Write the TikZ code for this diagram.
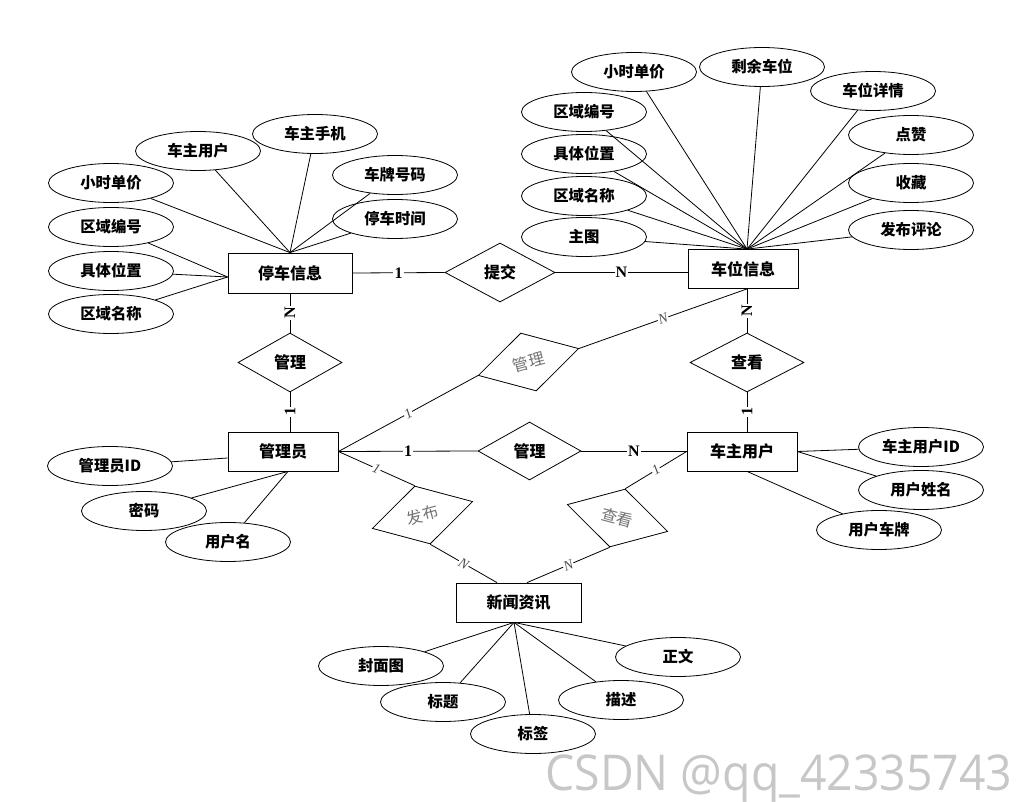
\documentclass[tikz,border=0pt]{standalone}
\usepackage{fontspec}
\setmainfont{Noto Sans CJK SC}
\newfontfamily\labfont{Liberation Serif}
\newfontfamily\wmfont{Open Sans}
\usetikzlibrary{shapes.geometric,calc}
\begin{document}
\begin{tikzpicture}[x=0.75pt,y=-0.75pt,line width=0.6pt,
  ent/.style={draw,rectangle,inner sep=0pt,minimum width=82.5pt,minimum height=29.25pt,
    font=\bfseries\fontsize{12}{14}\selectfont},
  attr/.style={draw,ellipse,inner sep=0pt,minimum width=93.75pt,minimum height=29.25pt,
    font=\bfseries\fontsize{11.5}{14}\selectfont},
  rel/.style={draw,diamond,inner sep=0pt,minimum width=78pt,minimum height=44.25pt,
    font=\bfseries\fontsize{12}{14}\selectfont},
  relg/.style={draw,diamond,inner sep=0pt,minimum width=78pt,minimum height=45pt,
    text=black!55,font=\fontsize{12}{14}\selectfont},
  card/.style={fill=white,inner sep=0.8pt,font=\labfont\bfseries\fontsize{12}{12}\selectfont},
  cardv/.style={card,rotate=90},
  cardd/.style={fill=white,inner sep=0.6pt,sloped,text=black!70,
    font=\labfont\itshape\fontsize{10.5}{12}\selectfont}
]
\useasboundingbox[fill=white] (0,0) rectangle (1032,802);

% entities
\node[ent,minimum width=93pt,minimum height=30pt] (E1) at (290,273) {停车信息};
\node[ent] (E2) at (743,269) {车位信息};
\node[ent] (E3) at (283,451.5) {管理员};
\node[ent] (E4) at (742,451.5) {车主用户};
\node[ent,minimum width=93.75pt] (E5) at (518.5,602.5) {新闻资讯};

% relationships
\node[rel] (R1) at (290,362.5) {管理};
\node[rel,minimum width=82.5pt] (R2) at (500,272.5) {提交};
\node[rel,minimum width=77.25pt,minimum height=43.5pt] (R3) at (529.5,451) {管理};
\node[rel,minimum width=85.5pt] (R4) at (747,362.5) {查看};
\node[relg,rotate=15] (R5) at (528.5,362) {管理};
\node[relg,rotate=15] (R6) at (422.5,515) {发布};
\node[relg,rotate=-15] (R7) at (617.5,518) {查看};

% helper coordinates on entity borders
\coordinate (c1l) at ($(E1.west)+(0,4)$);
\coordinate (c2t) at ($(E2.north)+(4,0)$);
\coordinate (c2b) at ($(E2.south)+(4,0)$);
\coordinate (c3l) at ($(E3.west)+(0,6.5)$);
\coordinate (c3b) at ($(E3.south)+(5,0)$);
\coordinate (c4t) at ($(E4.north)+(5,0)$);
\coordinate (c4b) at ($(E4.south)+(5,0)$);
\coordinate (c5a) at ($(E5.north)+(-21.5,0)$);
\coordinate (c5b) at ($(E5.north)+(8.5,0)$);
\coordinate (c5s) at ($(E5.south)+(-4.5,0)$);

% attributes of 停车信息
\node[attr] (a1) at (111,183) {小时单价};
\node[attr] (a2) at (198,151) {车主用户};
\node[attr] (a3) at (315,134) {车主手机};
\node[attr] (a4) at (395,175) {车牌号码};
\node[attr] (a5) at (395,219) {停车时间};
\node[attr] (a6) at (111,227) {区域编号};
\node[attr] (a7) at (111,271) {具体位置};
\node[attr] (a8) at (111,314) {区域名称};
\foreach \a in {a1,a2,a3,a4,a5} \draw (\a) -- (E1.north);
\foreach \a in {a6,a7,a8} \draw (\a) -- (c1l);

% attributes of 车位信息
\node[attr] (b1) at (634,72) {小时单价};
\node[attr] (b2) at (762,67) {剩余车位};
\node[attr] (b3) at (873,91) {车位详情};
\node[attr] (b4) at (584,112) {区域编号};
\node[attr] (b5) at (584,154) {具体位置};
\node[attr] (b6) at (584,196) {区域名称};
\node[attr] (b7) at (584,237) {主图};
\node[attr] (b8) at (911,135) {点赞};
\node[attr] (b9) at (911,183) {收藏};
\node[attr] (b10) at (911,230) {发布评论};
\foreach \a in {b1,b2,b3,b4,b5,b6,b7,b8,b9,b10} \draw (\a) -- (c2t);

% attributes of 管理员
\node[attr] (m1) at (110,466) {管理员ID};
\node[attr] (m2) at (144,511) {密码};
\node[attr] (m3) at (228,542) {用户名};
\draw (m1) -- (c3l);
\draw (m2) -- (c3b);
\draw (m3) -- (c3b);

% attributes of 车主用户
\node[attr] (u1) at (921,447) {车主用户ID};
\node[attr] (u2) at (921,490) {用户姓名};
\node[attr] (u3) at (879,530) {用户车牌};
\draw (u1) -- (E4.east);
\draw (u2) -- (E4.east);
\draw (u3) -- (c4b);

% attributes of 新闻资讯
\node[attr] (n1) at (381,666) {封面图};
\node[attr] (n2) at (443,702) {标题};
\node[attr] (n3) at (533,734) {标签};
\node[attr] (n4) at (621,700) {描述};
\node[attr] (n5) at (678,657) {正文};
\foreach \a in {n1,n2,n3,n4,n5} \draw (\a) -- (c5s);

% relationship connectors
\draw (E1.east) -- node[card]{1} (R2.west);
\draw (R2.east) -- node[card]{N} (R2.east -| E2.west);
\draw (E1.south) -- node[cardv]{N} (R1.north);
\draw (R1.south) -- node[cardv]{1} (R1.south |- E3.north);
\draw (E3.east) -- node[cardd]{1} (R5.west);
\draw (R5.east) -- node[cardd]{N} (c2b);
\draw (E3.east) -- node[card]{1} (R3.west);
\draw (R3.east) -- node[card]{N} (R3.east -| E4.west);
\draw (c2b) -- node[cardv]{N} (R4.north);
\draw (R4.south) -- node[cardv]{1} (c4t);
\draw (E3.east) -- node[cardd]{1} (R6.north);
\draw (R6.south) -- node[cardd]{N} (c5a);
\draw (E4.west) -- node[cardd]{1} (R7.north);
\draw (R7.south) -- node[cardd]{N} (c5b);

% watermark
\node[font=\wmfont\fontsize{37}{40}\selectfont,text=black!22,anchor=base west,
  inner sep=0pt,xscale=0.94] (wm) at (545,790) {CSDN @qq\_42335743};
\end{tikzpicture}
\end{document}
